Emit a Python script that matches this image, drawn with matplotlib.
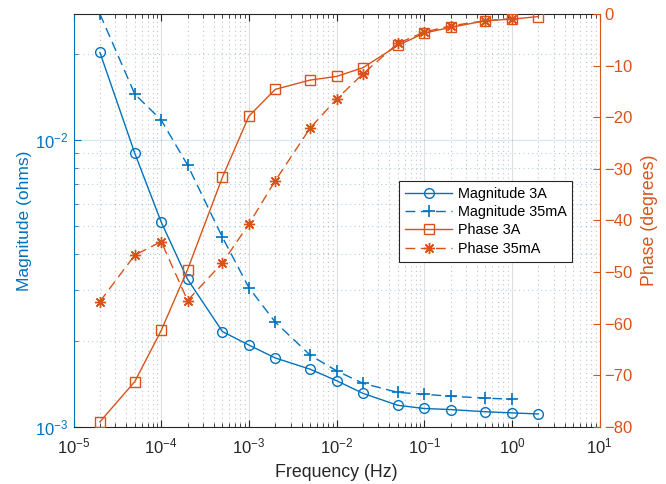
import matplotlib
matplotlib.use("Agg")
import matplotlib.pyplot as plt
from matplotlib.ticker import LogLocator, FixedLocator, NullFormatter, LogFormatterMathtext

plt.rcParams['font.family'] = ['Liberation Sans', 'DejaVu Sans']
plt.rcParams['mathtext.fontset'] = 'custom'
plt.rcParams['mathtext.rm'] = 'Liberation Sans'
plt.rcParams['mathtext.it'] = 'Liberation Sans:italic'
plt.rcParams['mathtext.bf'] = 'Liberation Sans:bold'

# Impedance sweep data
freq = [2e-5, 5e-5, 1e-4, 2e-4, 5e-4, 1e-3, 2e-3, 5e-3, 1e-2, 2e-2,
        5e-2, 0.1, 0.2, 0.5, 1, 2]
freq_35mA = freq[:-1]

mag_3A = [0.0202, 0.00899, 0.00518, 0.00327, 0.00215, 0.00193, 0.00174,
          0.00159, 0.00145, 0.00131, 0.00119, 0.00116, 0.00115, 0.00113,
          0.00112, 0.00111]
mag_35mA = [0.0275, 0.01445, 0.01174, 0.00818, 0.00458, 0.00306, 0.00232,
            0.00178, 0.00157, 0.00142, 0.00132, 0.00130, 0.00128, 0.00126,
            0.00125]
phase_3A = [-79.0, -71.2, -61.3, -49.5, -31.6, -19.8, -14.6, -12.8, -12.1,
            -10.4, -6.1, -3.7, -2.6, -1.3, -1.0, -0.5]
phase_35mA = [-55.7, -46.7, -44.1, -55.5, -48.2, -40.7, -32.3, -22.1, -16.5,
              -11.6, -5.7, -3.5, -2.3, -1.3, -0.9]

phase_ticks = [0, -10, -20, -30, -40, -50, -60, -70, -80]

BLUE = '#0072BD'
ORANGE = '#D95319'
DARK = '#262626'

fig = plt.figure(figsize=(6.66, 4.84), dpi=100)
ax = fig.add_axes([0.1104, 0.1178, 0.7898, 0.8533])
ax2 = ax.twinx()

# Magnitude (left, log scale)
l1, = ax.plot(freq, mag_3A, '-', color=BLUE, lw=1.0, marker='o',
              ms=7, mfc='none', mec=BLUE, mew=1.0)
l2, = ax.plot(freq_35mA, mag_35mA, '--', color=BLUE, lw=1.0, marker='+',
              ms=9, mew=1.2, dashes=(7, 4))
ax.set_xscale('log')
ax.set_yscale('log')
ax.set_xlim(1e-5, 1e1)
ax.set_ylim(1e-3, 0.0275)

# Phase (right, linear)
l3, = ax2.plot(freq, phase_3A, '-', color=ORANGE, lw=1.0, marker='s',
               ms=6.5, mfc='none', mec=ORANGE, mew=1.0)
l4, = ax2.plot(freq_35mA, phase_35mA, '--', color=ORANGE, lw=1.0,
               marker=(8, 2, 0), ms=8, mew=1.0, dashes=(7, 4))
ax2.set_ylim(-80, 0)
ax2.yaxis.set_major_locator(FixedLocator(phase_ticks))

# Ticks
ax.xaxis.set_major_locator(LogLocator(base=10, numticks=20))
ax.xaxis.set_minor_locator(LogLocator(base=10, subs=range(2, 10), numticks=20))
ax.xaxis.set_major_formatter(LogFormatterMathtext())
ax.xaxis.set_minor_formatter(NullFormatter())
ax.yaxis.set_major_locator(FixedLocator([1e-3, 1e-2]))
ax.yaxis.set_minor_locator(LogLocator(base=10, subs=range(2, 10), numticks=20))
ax.yaxis.set_major_formatter(LogFormatterMathtext())
ax.yaxis.set_minor_formatter(NullFormatter())

ax.tick_params(axis='x', which='both', direction='in', top=True, bottom=True,
               colors=DARK, labelsize=12, pad=7)
ax.tick_params(axis='x', which='major', length=5, width=0.8)
ax.tick_params(axis='x', which='minor', length=3, width=0.6)
ax.tick_params(axis='y', which='both', direction='in', left=True, right=False,
               colors=BLUE, labelsize=12)
ax.tick_params(axis='y', which='major', length=5, width=0.8)
ax.tick_params(axis='y', which='minor', length=3, width=0.6)
ax2.tick_params(axis='y', which='both', direction='in', right=True, left=False,
                colors=ORANGE, labelsize=12, length=5, width=0.8)

# Grid
ax.grid(True, which='major', axis='x', color=DARK, alpha=0.15, lw=0.8, ls='-')
ax.grid(True, which='minor', axis='x', color=DARK, alpha=0.28, lw=0.8, ls=(0, (1, 3)))
ax.grid(True, which='major', axis='y', color=BLUE, alpha=0.18, lw=0.8, ls='-')
ax.grid(True, which='minor', axis='y', color=BLUE, alpha=0.32, lw=0.8, ls=(0, (1, 3)))
ax.set_axisbelow(True)

# Spines
ax.spines['left'].set_color(BLUE)
ax.spines['right'].set_visible(False)
ax.spines['top'].set_color(DARK)
ax.spines['bottom'].set_color(DARK)
ax2.spines['right'].set_color(ORANGE)
ax2.spines['left'].set_visible(False)
ax2.spines['top'].set_visible(False)
ax2.spines['bottom'].set_visible(False)
for sp in ax.spines.values():
    sp.set_linewidth(0.8)
ax2.spines['right'].set_linewidth(0.8)

# Labels
ax.set_xlabel('Frequency (Hz)', fontsize=12.8, color=DARK, labelpad=5)
ax.set_ylabel('Magnitude (ohms)', fontsize=12.5, color=BLUE, labelpad=2)
ax2.set_ylabel('Phase (degrees)', fontsize=12.8, color=ORANGE, labelpad=6)

# Legend
leg = ax2.legend([l1, l2, l3, l4],
                 ['Magnitude 3A', 'Magnitude 35mA', 'Phase 3A', 'Phase 35mA'],
                 loc='upper left', bbox_to_anchor=(399 / 666, 1 - 181 / 484),
                 bbox_transform=fig.transFigure, borderaxespad=0,
                 fontsize=10.4, fancybox=False, framealpha=1, edgecolor=DARK,
                 handlelength=3.3, handletextpad=0.35, labelspacing=0.3,
                 borderpad=0.4)
leg.get_frame().set_linewidth(0.8)

fig.savefig('out.png', dpi=100)
